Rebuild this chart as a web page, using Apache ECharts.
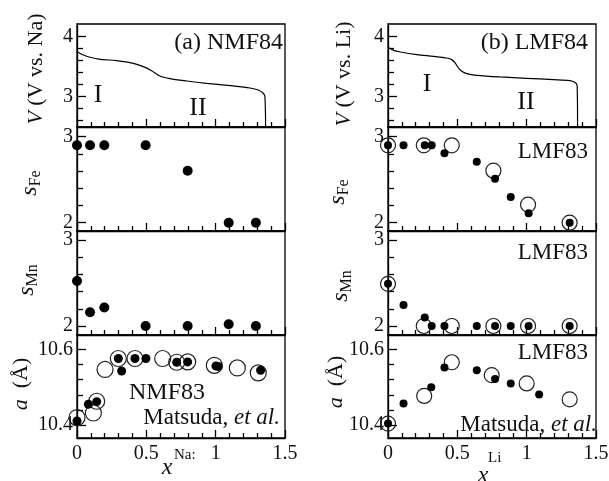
<!DOCTYPE html>
<html>
<head>
<meta charset="utf-8">
<script src="https://cdn.jsdelivr.net/npm/echarts@6/dist/echarts.min.js"></script>
<style>
  html, body { margin: 0; padding: 0; background: #fff; }
  #chart { width: 609px; height: 481px; }
</style>
</head>
<body>
<div id="chart"></div>
<script>
// ---- discharge curves (x, V) ----
const naCurveX = [0, 0.046, 0.094, 0.166, 0.286, 0.406, 0.478, 0.538, 0.598, 0.671, 0.791, 0.935, 1.127, 1.247, 1.307, 1.343, 1.355, 1.36];
const naCurveV = [3.75, 3.694, 3.656, 3.622, 3.60, 3.556, 3.50, 3.433, 3.344, 3.30, 3.261, 3.222, 3.178, 3.144, 3.111, 3.056, 3.0, 2.5];
const liCurveX = [0, 0.041, 0.089, 0.209, 0.329, 0.424, 0.460, 0.484, 0.508, 0.532, 0.568, 0.640, 0.808, 0.999, 1.191, 1.311, 1.347, 1.364, 1.367];
const liCurveV = [3.822, 3.772, 3.744, 3.70, 3.672, 3.644, 3.617, 3.561, 3.478, 3.422, 3.383, 3.356, 3.328, 3.306, 3.283, 3.267, 3.239, 3.183, 2.5];

// ---- NMF83 valences (filled) ----
const nmfX  = [0, 0.094, 0.197, 0.495, 0.798, 1.094, 1.29];
const nmfFe = [2.90, 2.90, 2.90, 2.90, 2.605, 2.0, 2.0];
const nmfMn = [2.523, 2.16, 2.215, 2.0, 2.0, 2.02, 2.0];

// ---- NMF83 lattice constant: this work (filled) and Matsuda et al. (open) ----
const nmfLatX = [0, 0.082, 0.142, 0.298, 0.322, 0.418, 0.497, 0.719, 0.798, 1.002, 1.019, 1.324];
const nmfLatA = [10.411, 10.455, 10.462, 10.576, 10.543, 10.576, 10.576, 10.566, 10.567, 10.556, 10.555, 10.545];
const matNaX  = [0, 0.118, 0.142, 0.202, 0.298, 0.418, 0.618, 0.719, 0.798, 0.99, 1.156, 1.307];
const matNaA  = [10.42, 10.432, 10.463, 10.547, 10.576, 10.576, 10.576, 10.566, 10.567, 10.558, 10.551, 10.538];

// ---- LMF83 valences: filled and open ----
const lmfX  = [0, 0.112, 0.265, 0.315, 0.407, 0.640, 0.772, 0.885, 1.014, 1.31];
const lmfFe = [2.90, 2.90, 2.90, 2.90, 2.807, 2.71, 2.51, 2.30, 2.11, 2.0];
const lmfMn = [2.49, 2.245, 2.10, 2.0, 2.0, 2.0, 2.0, 2.0, 2.0, 2.0];
const matLiX  = [0, 0.258, 0.46, 0.76, 1.01, 1.31];
const matLiFe = [2.90, 2.90, 2.90, 2.605, 2.21, 2.0];
const matLiMn = [2.49, 2.0, 2.0, 2.0, 2.0, 2.0];

// ---- LMF83 lattice constant ----
const lmfLatX = [0, 0.112, 0.312, 0.407, 0.640, 0.772, 0.885, 1.09];
const lmfLatA = [10.404, 10.457, 10.50, 10.552, 10.545, 10.522, 10.51, 10.481];
const matLiLatX = [0, 0.261, 0.46, 0.748, 1.0, 1.31];
const matLiLatA = [10.404, 10.477, 10.566, 10.532, 10.51, 10.468];

// ---- axis ranges and ticks ----
const xMajorStep = 0.5;
const rowRanges = [[2.494, 4.211], [1.903, 3.113], [1.895, 3.105], [10.366, 10.638]];
const rowMajor = [[3, 4], [2, 3], [2, 3], [10.4, 10.6]];
const rowMinor = [[2.6, 2.8, 3.2, 3.4, 3.6, 3.8], [2.2, 2.4, 2.6, 2.8], [2.2, 2.4, 2.6, 2.8], [10.44, 10.48, 10.52, 10.56]];

const FONT = 'Liberation Serif';
const INK = '#111';
const TICK = { color: '#000', width: 1.3 };

const cols = [{ left: 77, width: 208 }, { left: 388, width: 208 }];
const rows = [{ top: 24, height: 103 }, { top: 127, height: 104 }, { top: 231, height: 104 }, { top: 335, height: 103 }];
const NP = cols.length * rows.length;

// Each panel has a data grid (hidden axes, carries the series) and a frame grid
// at the same place that only draws the box, ticks and tick labels.
const grid = [], xAxis = [], yAxis = [];
const dataY = [], frameX = [], frameY = [], frameYMinor = [];
cols.forEach((c, ci) => {
  rows.forEach((r, ri) => {
    const gi = ci * 4 + ri;
    const box = { left: c.left, top: r.top, width: c.width, height: r.height, containLabel: false, outerBoundsMode: 'none' };
    grid[gi] = Object.assign({ show: false }, box);
    grid[NP + gi] = Object.assign({ show: true, borderColor: '#000', borderWidth: 1.3 }, box);

    xAxis[gi] = { gridIndex: gi, type: 'value', min: 0, max: 1.5, show: false, splitLine: { show: false } };
    dataY[gi] = { gridIndex: gi, type: 'value', min: rowRanges[ri][0], max: rowRanges[ri][1], show: false, splitLine: { show: false } };

    frameX[gi] = {
      gridIndex: NP + gi, type: 'value', min: 0, max: 1.5, interval: xMajorStep,
      axisLine: { show: true, lineStyle: { color: '#000', width: 1.3 } },
      axisTick: { show: true, inside: true, length: 8, lineStyle: TICK },
      minorTick: { show: true, splitNumber: 5, length: 5, lineStyle: TICK },
      splitLine: { show: false },
      axisLabel: { show: ri === 3, color: INK, fontFamily: FONT, fontSize: 20, margin: 6 }
    };
    frameY[gi] = {
      gridIndex: NP + gi, type: 'value', min: rowRanges[ri][0], max: rowRanges[ri][1],
      axisLine: { show: true, lineStyle: { color: '#000', width: 1.3 } },
      axisTick: { show: true, inside: true, length: 9, customValues: rowMajor[ri], lineStyle: TICK },
      axisLabel: { show: true, customValues: rowMajor[ri], color: INK, fontFamily: FONT, fontSize: 20, margin: 4 },
      splitLine: { show: false }
    };
    frameYMinor[gi] = {
      gridIndex: NP + gi, type: 'value', position: 'left', min: rowRanges[ri][0], max: rowRanges[ri][1],
      axisLine: { show: false },
      axisTick: { show: true, inside: true, length: 6, customValues: rowMinor[ri], lineStyle: TICK },
      axisLabel: { show: false },
      splitLine: { show: false }
    };
  });
});
frameX.forEach(a => xAxis.push(a));
dataY.forEach(a => yAxis.push(a));
frameY.forEach(a => yAxis.push(a));
frameYMinor.forEach(a => yAxis.push(a));

const zip = (xs, ys) => xs.map((x, i) => [x, ys[i]]);

function curve(gi, xs, ys) {
  return {
    type: 'line', xAxisIndex: gi, yAxisIndex: gi, data: zip(xs, ys),
    showSymbol: false, symbol: 'none', smooth: 0.3, clip: true,
    lineStyle: { color: '#000', width: 1.2 }, z: 3, silent: true
  };
}
function filled(gi, xs, ys, size) {
  return {
    type: 'scatter', xAxisIndex: gi, yAxisIndex: gi, data: zip(xs, ys),
    symbol: 'circle', symbolSize: size, clip: false,
    itemStyle: { color: '#000', opacity: 1 }, z: 5, silent: true
  };
}
function open(gi, xs, ys, size) {
  return {
    type: 'scatter', xAxisIndex: gi, yAxisIndex: gi, data: zip(xs, ys),
    symbol: 'circle', symbolSize: size, clip: false,
    itemStyle: { color: 'transparent', borderColor: '#222', borderWidth: 1.2, opacity: 1 }, z: 4, silent: true
  };
}

const series = [
  curve(0, naCurveX, naCurveV),
  filled(1, nmfX, nmfFe, 10),
  filled(2, nmfX, nmfMn, 10),
  open(3, matNaX, matNaA, 16),
  filled(3, nmfLatX, nmfLatA, 9),
  curve(4, liCurveX, liCurveV),
  open(5, matLiX, matLiFe, 15),
  filled(5, lmfX, lmfFe, 8),
  open(6, matLiX, matLiMn, 15),
  filled(6, lmfX, lmfMn, 8),
  open(7, matLiLatX, matLiLatA, 15),
  filled(7, lmfLatX, lmfLatA, 8)
];

// ---- text helpers ----
const mctx = document.createElement('canvas').getContext('2d');
function fontStr(size, italic) { return (italic ? 'italic ' : '') + size + 'px "' + FONT + '"'; }
function textWidth(t, size, italic) { mctx.font = fontStr(size, italic); return mctx.measureText(t).width; }

function txt(x, y, text, size, opts) {
  opts = opts || {};
  return {
    type: 'text', x: x, y: y, z: 10, silent: true,
    style: {
      text: text, fontFamily: FONT, fontSize: size, fontStyle: opts.italic ? 'italic' : 'normal',
      fill: INK, align: opts.align || 'center', verticalAlign: 'middle'
    }
  };
}
// rotated axis title built from runs: [text, size, italic, offset]
function vLabel(cx, cy, parts) {
  const total = parts.reduce((s, p) => s + textWidth(p[0], p[1], p[2]), 0);
  let x = -total / 2;
  const children = [];
  parts.forEach(p => {
    children.push({
      type: 'text', x: x, y: p[3] || 0, silent: true,
      style: {
        text: p[0], fontFamily: FONT, fontSize: p[1], fontStyle: p[2] ? 'italic' : 'normal',
        fill: INK, align: 'left', verticalAlign: 'middle'
      }
    });
    x += textWidth(p[0], p[1], p[2]);
  });
  return { type: 'group', x: cx, y: cy, rotation: Math.PI / 2, z: 10, children: children };
}
function richTxt(x, y, parts, size, align) {
  const total = parts.reduce((s, p) => s + textWidth(p[0], size, p[1]), 0);
  let cx = align === 'right' ? x - total : x;
  return parts.map(p => {
    const el = txt(cx, y, p[0], size, { italic: p[1], align: 'left' });
    cx += textWidth(p[0], size, p[1]);
    return el;
  });
}

const graphic = [
  // axis titles, left column
  vLabel(36, 69, [['V', 22, true], [' (V vs. Na)', 22, false]]),
  vLabel(30, 183, [['s', 24, true], ['Fe', 16, false, 6]]),
  vLabel(27, 280, [['s', 24, true], ['Mn', 16, false, 6]]),
  vLabel(21, 384, [['a', 22, true], ['  (Å)', 22, false]]),
  // axis titles, right column
  vLabel(344, 74, [['V', 22, true], [' (V vs. Li)', 22, false]]),
  vLabel(338, 192, [['s', 24, true], ['Fe', 16, false, 6]]),
  vLabel(341, 286, [['s', 24, true], ['Mn', 16, false, 6]]),
  vLabel(336, 382, [['a', 22, true], ['  (Å)', 22, false]]),
  // x titles with superscripts
  txt(167, 468, 'x', 24, { italic: true }),
  txt(174, 455, 'Na:', 15, { align: 'left' }),
  txt(483, 476, 'x', 24, { italic: true }),
  txt(488, 458, 'Li', 15, { align: 'left' }),
  // panel annotations
  txt(283, 43, '(a) NMF84', 24, { align: 'right' }),
  txt(588, 43, '(b) LMF84', 24, { align: 'right' }),
  txt(588, 152, 'LMF83', 23, { align: 'right' }),
  txt(588, 253, 'LMF83', 23, { align: 'right' }),
  txt(588, 353, 'LMF83', 23, { align: 'right' }),
  txt(129, 393, 'NMF83', 24, { align: 'left' }),
  txt(98, 95, 'I', 26),
  txt(198, 108, 'II', 26),
  txt(427, 84, 'I', 26),
  txt(526, 102, 'II', 26)
].concat(
  richTxt(280, 418, [['Matsuda, ', false], ['et al.', true]], 23, 'right'),
  richTxt(597, 425, [['Matsuda, ', false], ['et al.', true]], 23, 'right')
);

const chart = echarts.init(document.getElementById('chart'), null, { renderer: 'canvas' });
chart.setOption({
  animation: false,
  grid: grid, xAxis: xAxis, yAxis: yAxis,
  series: series,
  graphic: graphic
});
</script>
</body>
</html>
